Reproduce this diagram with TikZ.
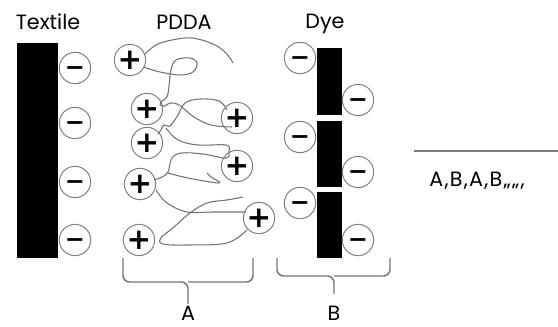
\documentclass[tikz,border=0pt]{standalone}
\usepackage{fontspec}
\setmainfont{Poppins}
\newfontfamily\signfont{DejaVu Sans}
\usepackage{tikz}

\begin{document}
\begin{tikzpicture}[
  x=0.75pt, y=-0.75pt,
  font=\fontsize{15.5}{17}\selectfont,
  charge/.style={draw=black!50, circle, minimum width=23.5pt, minimum height=22.5pt,
    inner sep=0pt, line width=0.75pt, font=\signfont\bfseries\fontsize{18}{18}\selectfont},
  negcharge/.style={charge, text depth=0pt},
  poscharge/.style={charge, font=\signfont\bfseries\fontsize{22}{22}\selectfont},
  bar/.style={fill=black},
  chain/.style={draw=black!55, line width=0.8pt, smooth, tension=0.6},
  curly/.style={draw=black!55, line width=1.1pt, rounded corners=5pt},
  rule/.style={draw=black!50, line width=1pt},
  layerlabel/.style={inner sep=0pt}
]
  \useasboundingbox (0,0) rectangle (558,327);

  \node (textile) at (48,22) {Textile};
  \node (pdda) at (184,22) {PDDA};
  \node (dye) at (325,24) {Dye};

  \fill[bar] (17,43) rectangle (58,258);
  \fill[bar] (317,48) rectangle (342,115);
  \fill[bar] (317,121) rectangle (342,187);
  \fill[bar] (317,192) rectangle (342,258);

  \draw[chain] plot coordinates {(144,55) (156,45) (172,40) (192,38) (213,44) (226,53) (233,63)};
  \draw[chain] plot coordinates {(143,67) (160,72) (180,75) (193,72) (197,63) (190,58) (176,60)
    (171,70) (169,86) (167,97) (162,101) (160,105) (165,106) (170,103) (179,105) (194,117)
    (211,125) (232,127)};
  \draw[chain] plot coordinates {(227,110) (219,101) (200,99) (185,103) (178,115) (170,126)
    (164,125) (161,130) (158,134)};
  \draw[chain] plot coordinates {(166,128) (178,140) (198,145) (226,145) (229,151) (226,158)
    (203,154) (182,153) (172,158) (168,172) (162,177) (154,180)};
  \draw[chain] plot coordinates {(168,173) (188,178) (219,183) (211,177) (207,173)};
  \draw[chain] plot coordinates {(156,190) (167,203) (187,212) (213,212) (246,212)};
  \draw[chain] plot coordinates {(243,197) (227,200) (207,203) (190,213) (174,227) (161,238)
    (163,244) (188,245) (227,243) (247,230)};

  \foreach \y [count=\i] in {68,123,182,240}
    \node[negcharge] (tn\i) at (75,\y) {\raisebox{-4pt}{−}};

  \node[poscharge] (p1) at (130,60) {+};
  \node[poscharge] (p2) at (147,109) {+};
  \node[poscharge] (p3) at (237,118) {+};
  \node[poscharge] (p4) at (147,143) {+};
  \node[poscharge] (p5) at (237,166) {+};
  \node[poscharge] (p6) at (140,184) {+};
  \node[poscharge] (p7) at (259,218) {+};
  \node[poscharge] (p8) at (139,240) {+};

  \foreach \y [count=\i] in {58,137,203}
    \node[negcharge] (dl\i) at (300,\y) {\raisebox{-4pt}{−}};
  \foreach \y [count=\i] in {100,172,240}
    \node[negcharge] (dr\i) at (358,\y) {\raisebox{-4pt}{−}};

  \draw[curly] (123,258) |- (188,282) -- (188,304);
  \draw[curly] (253,258) |- (188,282);
  \draw[curly] (277,258) |- (334,276) -- (334,294);
  \draw[curly] (390,258) |- (334,276);

  \node[layerlabel] (layera) at (188,313) {A};
  \node[layerlabel] (layerb) at (334,313) {B};

  \coordinate (seqstart) at (414,151);
  \coordinate (seqend) at (558,151);
  \draw[rule] (seqstart) -- (seqend);
  \node (sequence) at (477,181) {\addfontfeatures{LetterSpace=6}A,B,A,B,,,,,};
\end{tikzpicture}
\end{document}
